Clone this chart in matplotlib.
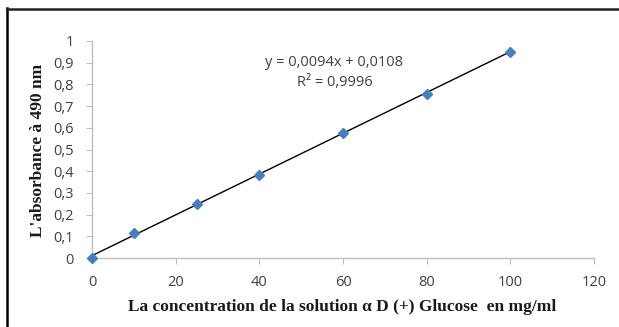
import matplotlib
matplotlib.use("Agg")
import matplotlib.pyplot as plt
from matplotlib.lines import Line2D
import numpy as np

concentration = [0, 10, 25, 40, 60, 80, 100]
absorbance = [0.0, 0.115, 0.248, 0.384, 0.576, 0.757, 0.951]
slope = 0.0094
intercept = 0.0108
equation_text = "y = 0,0094x + 0,0108"
r2_text = "R² = 0,9996"
x_ticks = [0, 20, 40, 60, 80, 100, 120]
y_ticks = [0, 0.1, 0.2, 0.3, 0.4, 0.5, 0.6, 0.7, 0.8, 0.9, 1]
y_tick_labels = ["0", "0,1", "0,2", "0,3", "0,4", "0,5", "0,6", "0,7", "0,8", "0,9", "1"]
xlabel = "La concentration de la solution α D (+) Glucose  en mg/ml"
ylabel = "L'absorbance à 490 nm"

W, H = 619, 327
fig = plt.figure(figsize=(W / 100, H / 100), dpi=100)
ax = fig.add_axes([92 / W, 1 - 258 / H, (594 - 92) / W, (258 - 41) / H])

tick_font = "Open Sans"
grey = "#bfbfbf"
txt = "#404040"

xfit = np.array([min(concentration), max(concentration)])
ax.plot(xfit, slope * xfit + intercept, color="black", lw=1.0, zorder=2)
ax.plot(concentration, absorbance, linestyle="none", marker="D", markersize=5.5,
        color="#4a7ebb", markeredgecolor="#4a7ebb", zorder=3, clip_on=False)

ax.set_xlim(0, 120)
ax.set_ylim(0, 1)
ax.set_xticks(x_ticks)
ax.set_xticklabels([str(t) for t in x_ticks], fontsize=10.5, family=tick_font, color=txt)
ax.set_yticks(y_ticks)
ax.set_yticklabels(y_tick_labels, fontsize=10.5, family=tick_font, color=txt)
ax.tick_params(axis="both", direction="out", length=4, width=0.8, color=grey)
ax.tick_params(axis="y", pad=9)
ax.tick_params(axis="x", pad=8)

for s in ["top", "right"]:
    ax.spines[s].set_visible(False)
for s in ["left", "bottom"]:
    ax.spines[s].set_color(grey)
    ax.spines[s].set_linewidth(1.0)

fig.text(342 / W, 1 - 307 / H, xlabel, ha="center", va="center", fontsize=12.5,
         family="Liberation Serif", fontweight="bold", color="#1a1a1a")
fig.text(38 / W, 1 - 150 / H, ylabel, ha="center", va="center", fontsize=12.5, rotation=90,
         family="Liberation Serif", fontweight="bold", color="#1a1a1a")

fig.text(334 / W, 1 - 63 / H, equation_text, ha="center", va="center", fontsize=10.5,
         family=tick_font, color=txt)
fig.text(335 / W, 1 - 82 / H, r2_text, ha="center", va="center", fontsize=10.5,
         family=tick_font, color=txt)

# frame lines (left and top)
fig.add_artist(Line2D([7 / W, 7 / W], [0, 1 - 8 / H], transform=fig.transFigure,
                      color="black", lw=1.8))
fig.add_artist(Line2D([7 / W, 1], [1 - 8.5 / H, 1 - 8.5 / H], transform=fig.transFigure,
                      color="#222222", lw=1.8))

fig.savefig("out.png", dpi=100)
